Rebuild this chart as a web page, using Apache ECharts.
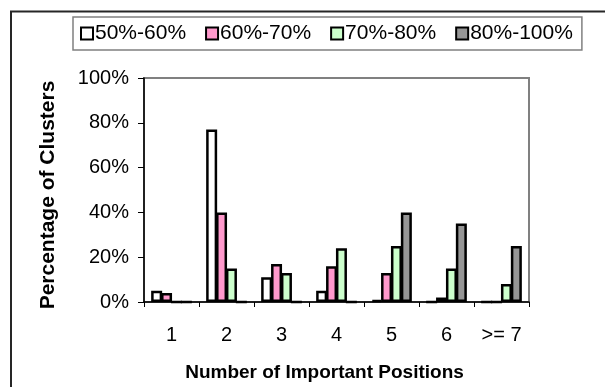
<!DOCTYPE html>
<html>
<head>
<meta charset="utf-8">
<script src="https://cdn.jsdelivr.net/npm/echarts@6/dist/echarts.min.js"></script>
<style>
  html, body { margin: 0; padding: 0; background: #fff; }
  #chart { width: 605px; height: 387px; }
</style>
</head>
<body>
<div id="chart"></div>
<script>
// Share of clusters by number of important positions, grouped by identity band
const categories = ['1', '2', '3', '4', '5', '6', '>= 7'];
const seriesNames = ['50%-60%', '60%-70%', '70%-80%', '80%-100%'];
const band50to60 = [5, 77, 11, 5, 1, 0, 0];
const band60to70 = [4, 40, 17, 16, 13, 2, 0];
const band70to80 = [0, 15, 13, 24, 25, 15, 8];
const band80to100 = [0, 0, 0, 0, 40, 35, 25];
const yTicks = [0, 20, 40, 60, 80, 100];

const seriesValues = [band50to60, band60to70, band70to80, band80to100];
const seriesColors = ['#FFFFFF', '#FF99CC', '#CCFFCC', '#969696'];
const FONT = 'Liberation Sans, Arial, sans-serif';

const chart = echarts.init(document.getElementById('chart'), null, { renderer: 'canvas' });

chart.setOption({
  animation: false,
  backgroundColor: '#FFFFFF',
  textStyle: { fontFamily: FONT, color: '#000' },
  graphic: [{
    type: 'rect',
    shape: { x: 11, y: 11.5, width: 700, height: 500 },
    style: { fill: 'none', stroke: '#262626', lineWidth: 2 },
    silent: true,
    z: 0
  }],
  legend: {
    left: 73,
    top: 17,
    padding: [6, 9, 6, 7],
    itemGap: 19,
    itemWidth: 12,
    itemHeight: 12,
    borderColor: '#808080',
    borderWidth: 1.5,
    backgroundColor: '#FFFFFF',
    icon: 'rect',
    itemStyle: { borderColor: '#000', borderWidth: 2 },
    textStyle: { fontFamily: FONT, fontSize: 21, color: '#000', padding: [0, 0, 0, -3] },
    data: seriesNames
  },
  grid: {
    left: 144,
    right: 76,
    top: 78,
    bottom: 85,
    show: true,
    borderColor: '#808080',
    borderWidth: 2,
    backgroundColor: '#FFFFFF'
  },
  xAxis: {
    type: 'category',
    data: categories,
    name: 'Number of Important Positions',
    nameLocation: 'middle',
    nameGap: 61,
    nameTextStyle: { fontFamily: FONT, fontSize: 19, fontWeight: 'bold', color: '#000', padding: [0, 24, 0, 0] },
    axisLine: { lineStyle: { color: '#000', width: 1.5 } },
    axisTick: { show: true, length: 5, lineStyle: { color: '#000', width: 1 } },
    axisLabel: { fontFamily: FONT, fontSize: 20, color: '#000', margin: 23 }
  },
  yAxis: {
    type: 'value',
    min: yTicks[0],
    max: yTicks[yTicks.length - 1],
    interval: yTicks[1] - yTicks[0],
    name: 'Percentage of Clusters',
    nameLocation: 'middle',
    nameGap: 85,
    nameTextStyle: { fontFamily: FONT, fontSize: 21, fontWeight: 'bold', color: '#000', padding: [0, 10, 0, 0] },
    axisLine: { show: true, lineStyle: { color: '#000', width: 1.5 } },
    axisTick: { show: true, length: 6, lineStyle: { color: '#000', width: 1 } },
    splitLine: { show: false },
    axisLabel: { fontFamily: FONT, fontSize: 20, color: '#000', margin: 15, formatter: '{value}%' }
  },
  series: seriesNames.map((name, i) => ({
    name: name,
    type: 'bar',
    data: seriesValues[i],
    barWidth: 11,
    barGap: '-10%',
    itemStyle: { color: seriesColors[i], borderColor: '#000', borderWidth: 2.5 }
  }))
});
</script>
</body>
</html>
